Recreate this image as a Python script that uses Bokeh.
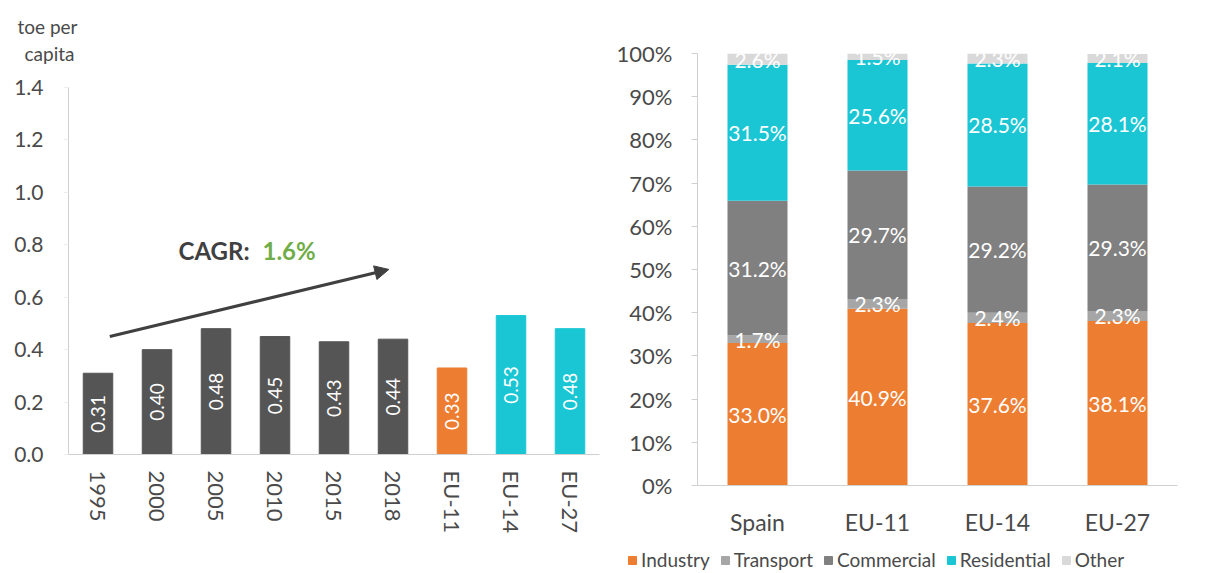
from math import pi
from bokeh.plotting import figure
from bokeh.layouts import row, column
from bokeh.models import (ColumnDataSource, FactorRange, Range1d, FixedTicker,
                          PrintfTickFormatter, NumeralTickFormatter, Label,
                          Arrow, NormalHead, Legend, LegendItem)
from bokeh.core.properties import value
from bokeh.embed import file_html
from bokeh.resources import INLINE

# ---------------- data ----------------
periods = ["1995", "2000", "2005", "2010", "2015", "2018", "EU-11", "EU-14", "EU-27"]
toe_per_capita = [0.31, 0.40, 0.48, 0.45, 0.43, 0.44, 0.33, 0.53, 0.48]
left_y_ticks = [0.0, 0.2, 0.4, 0.6, 0.8, 1.0, 1.2, 1.4]
unit_lines = ["toe per", "capita"]
cagr_text = "1.6%"

regions = ["Spain", "EU-11", "EU-14", "EU-27"]
sectors = ["Industry", "Transport", "Commercial", "Residential", "Other"]
industry = [33.0, 40.9, 37.6, 38.1]
transport = [1.7, 2.3, 2.4, 2.3]
commercial = [31.2, 29.7, 29.2, 29.3]
residential = [31.5, 25.6, 28.5, 28.1]
other = [2.6, 1.5, 2.3, 2.1]
right_y_ticks = [0.0, 0.1, 0.2, 0.3, 0.4, 0.5, 0.6, 0.7, 0.8, 0.9, 1.0]

# ---------------- styles ----------------
FONT = "Lato"
TXT = "#4A4A4A"
AX = "#D0D0D0"
DARK = "#555555"
ORANGE = "#ED7D31"
CYAN = "#1AC6D4"
group_color = {"EU-11": ORANGE, "EU-14": CYAN, "EU-27": CYAN}
sector_colors = {"Industry": ORANGE, "Transport": "#A6A6A6", "Commercial": "#808080",
                 "Residential": CYAN, "Other": "#D9D9D9"}


def strip(width, height):
    f = figure(width=width, height=height, output_backend="svg", toolbar_location=None,
               x_axis_type=None, y_axis_type=None, x_range=Range1d(0, 1), y_range=Range1d(0, 1),
               min_border_left=0, min_border_right=0, min_border_top=0, min_border_bottom=0)
    f.frame_align = False
    f.outline_line_color = None
    return f


# ---------------- left chart: unit caption strip ----------------
p0 = strip(608, 70)
for txt, sx, sy in zip(unit_lines, [47, 49], [44, 17]):
    p0.add_layout(Label(x=sx, y=sy, x_units="screen", y_units="screen", text=txt,
                        text_align="center", text_baseline="middle",
                        text_font=FONT, text_font_size="19px", text_color=TXT))

# ---------------- left chart ----------------
src1 = ColumnDataSource(dict(
    cat=periods,
    val=toe_per_capita,
    mid=[v / 2 for v in toe_per_capita],
    lbl=["%.2f" % v for v in toe_per_capita],
    color=[group_color.get(c, DARK) for c in periods],
))

p1 = figure(x_range=FactorRange(*periods), y_range=Range1d(0, 1.4),
            width=608, height=500, output_backend="svg", toolbar_location=None,
            min_border_left=68, min_border_right=9, min_border_top=17, min_border_bottom=116)
p1.frame_align = False
p1.vbar(x="cat", top="val", width=0.5, color="color", source=src1)
p1.text(x="cat", y="mid", text="lbl", angle=pi / 2, text_align="center",
        text_baseline="middle", text_color="white", text_font=value(FONT),
        text_font_size="19px", source=src1)

p1.xgrid.grid_line_color = None
p1.ygrid.grid_line_color = None
p1.outline_line_color = None

p1.yaxis.ticker = FixedTicker(ticks=left_y_ticks)
p1.yaxis.formatter = PrintfTickFormatter(format="%.1f")
p1.yaxis.minor_tick_line_color = None
p1.yaxis.axis_line_color = AX
p1.yaxis.major_tick_line_color = "#EEEEEE"
p1.yaxis.major_tick_out = 5
p1.yaxis.major_tick_in = 0
p1.yaxis.major_label_standoff = 20
p1.yaxis.major_label_text_font = FONT
p1.yaxis.major_label_text_font_size = "21px"
p1.yaxis.major_label_text_color = TXT

p1.xaxis.major_label_orientation = "vertical"
p1.xaxis.axis_line_color = AX
p1.xaxis.major_tick_line_color = None
p1.xaxis.major_tick_out = 0
p1.xaxis.major_label_standoff = 16
p1.xaxis.major_label_text_font = FONT
p1.xaxis.major_label_text_font_size = "22px"
p1.xaxis.major_label_text_color = TXT

# CAGR annotation
p1.add_layout(Label(x=110, y=204, x_units="screen", y_units="screen", text="CAGR:",
                    text_align="left", text_baseline="middle", text_font=FONT,
                    text_font_size="24px", text_font_style="bold", text_color="#404040"))
p1.add_layout(Label(x=194, y=204, x_units="screen", y_units="screen", text=cagr_text,
                    text_align="left", text_baseline="middle", text_font=FONT,
                    text_font_size="24px", text_font_style="bold", text_color="#70AD47"))
p1.add_layout(Arrow(end=NormalHead(size=14, fill_color="#404040", line_color="#404040"),
                    x_start=0.70, y_start=0.45, x_end=5.43, y_end=0.706,
                    line_width=3, line_color="#404040"))

# ---------------- right chart ----------------
series = [industry, transport, commercial, residential, other]
data2 = {"region": regions}
for s, vals in zip(sectors, series):
    data2[s] = [v / 100 for v in vals]
src2 = ColumnDataSource(data2)

p2 = figure(x_range=FactorRange(*regions), y_range=Range1d(0, 1.0),
            width=599, height=540, output_backend="svg", toolbar_location=None,
            min_border_left=89, min_border_right=30, min_border_top=53, min_border_bottom=55)
p2.frame_align = False
rends = p2.vbar_stack(sectors, x="region", width=0.5, source=src2,
                      color=[sector_colors[s] for s in sectors], line_color=None)

# segment labels
lx, ly, lt = [], [], []
for i, r in enumerate(regions):
    base = 0.0
    for vals in series:
        v = vals[i] / 100
        lx.append(r)
        ly.append(base + v / 2)
        lt.append("%.1f%%" % vals[i])
        base += v
p2.text(x=lx, y=ly, text=lt, text_align="center", text_baseline="middle",
        text_color="white", text_font=value(FONT), text_font_size="21px")

p2.xgrid.grid_line_color = None
p2.ygrid.grid_line_color = None
p2.outline_line_color = None

p2.yaxis.ticker = FixedTicker(ticks=right_y_ticks)
p2.yaxis.formatter = NumeralTickFormatter(format="0%")
p2.yaxis.minor_tick_line_color = None
p2.yaxis.axis_line_color = AX
p2.yaxis.major_tick_line_color = AX
p2.yaxis.major_tick_out = 6
p2.yaxis.major_tick_in = 0
p2.yaxis.major_label_standoff = 19
p2.yaxis.major_label_text_font = FONT
p2.yaxis.major_label_text_font_size = "22px"
p2.yaxis.major_label_text_color = TXT

p2.xaxis.axis_line_color = AX
p2.xaxis.major_tick_line_color = None
p2.xaxis.major_tick_out = 0
p2.xaxis.major_label_standoff = 22
p2.xaxis.major_label_text_font = FONT
p2.xaxis.major_label_text_font_size = "23px"
p2.xaxis.major_label_text_color = TXT

# legend strip under the right chart (swatch renderers sit outside the visible range)
p3 = strip(599, 32)
swatches = [p3.vbar(x=[-5], top=[-5], bottom=[-6], width=0.5, color=sector_colors[s])
            for s in sectors]
legend = Legend(items=[LegendItem(label=s, renderers=[r]) for s, r in zip(sectors, swatches)],
                orientation="horizontal", location=(19, 1),
                glyph_width=10, glyph_height=10, label_standoff=4, spacing=10,
                padding=0, margin=0, border_line_color=None, background_fill_alpha=0,
                label_text_font=FONT, label_text_font_size="19px", label_text_color=TXT,
                label_height=16)
p3.add_layout(legend, "center")

layout = row(column(p0, p1), column(p2, p3))
open("out.html", "w").write(file_html(layout, INLINE))
